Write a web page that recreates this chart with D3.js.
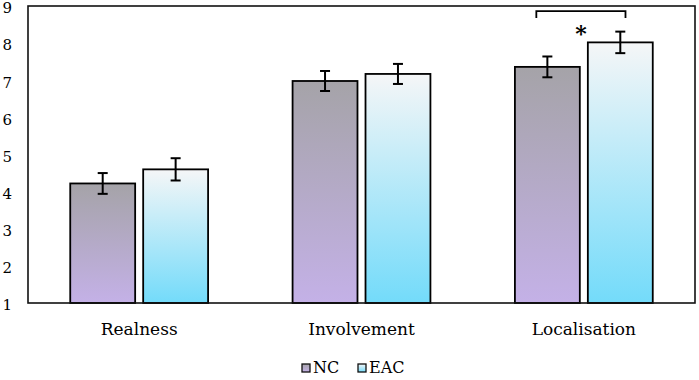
<!DOCTYPE html>
<html>
<head>
<meta charset="utf-8">
<script src="https://cdn.jsdelivr.net/npm/d3@7"></script>
<style>
  body { margin: 0; background: #fff; }
  text { font-family: "DejaVu Serif", "Liberation Serif", serif; fill: #000; }
</style>
</head>
<body>
<div id="chart"></div>
<script>
const categories = ["Realness", "Involvement", "Localisation"]
const seriesNames = ["NC", "EAC"]
const ncValues = [4.22, 6.98, 7.36]
const eacValues = [4.6, 7.17, 8.02]
const ncErrors = [0.28, 0.27, 0.28]
const eacErrors = [0.3, 0.27, 0.29]
const yTicks = [1, 2, 3, 4, 5, 6, 7, 8, 9]

const WIDTH = 699
const HEIGHT = 380
const PLOT = { LEFT: 28, RIGHT: 695, TOP: 6, BOTTOM: 303 }

const svg = d3.select("#chart")
  .append("svg")
  .attr("width", WIDTH)
  .attr("height", HEIGHT)

// gradients for each series
const defs = svg.append("defs")
const gradients = {
  NC: ["#a5a3a8", "#c4b1e7"],
  EAC: ["#f5f6f7", "#73dbfa"],
}
seriesNames.forEach(name => {
  const g = defs.append("linearGradient")
    .attr("id", "grad-" + name)
    .attr("x1", 0).attr("y1", 0).attr("x2", 0).attr("y2", 1)
  g.append("stop").attr("offset", "0%").attr("stop-color", gradients[name][0])
  g.append("stop").attr("offset", "100%").attr("stop-color", gradients[name][1])
})

const y = d3.scaleLinear()
  .domain([1, 9])
  .range([PLOT.BOTTOM, PLOT.TOP])

const x0 = d3.scaleBand()
  .domain(categories)
  .range([PLOT.LEFT, PLOT.RIGHT])
  .paddingInner(0.38)
  .paddingOuter(0.19)

const x1 = d3.scaleBand()
  .domain(seriesNames)
  .range([0, x0.bandwidth()])
  .paddingInner(0.11)

// y tick labels (no tick marks)
svg.append("g")
  .selectAll("text")
  .data(yTicks)
  .enter()
  .append("text")
  .attr("x", 12)
  .attr("y", d => y(d) + 2)
  .attr("dy", "0.35em")
  .attr("text-anchor", "end")
  .style("font-size", "15px")
  .text(d => d)

const rows = []
categories.forEach((c, i) => {
  rows.push({ cat: c, series: "NC", value: ncValues[i], err: ncErrors[i] })
  rows.push({ cat: c, series: "EAC", value: eacValues[i], err: eacErrors[i] })
})

// bars
svg.append("g")
  .selectAll("rect")
  .data(rows)
  .enter()
  .append("rect")
  .attr("x", d => x0(d.cat) + x1(d.series))
  .attr("y", d => y(d.value))
  .attr("width", x1.bandwidth())
  .attr("height", d => y(1) - y(d.value))
  .attr("fill", d => `url(#grad-${d.series})`)
  .attr("stroke", "#000")
  .attr("stroke-width", 1.8)

// error bars
const errG = svg.append("g")
  .attr("stroke", "#000")
  .attr("stroke-width", 2)
rows.forEach(d => {
  const cx = x0(d.cat) + x1(d.series) + x1.bandwidth() / 2
  const top = y(d.value + d.err)
  const bot = y(d.value - d.err)
  errG.append("line").attr("x1", cx).attr("x2", cx).attr("y1", top).attr("y2", bot)
  errG.append("line").attr("x1", cx - 5).attr("x2", cx + 5).attr("y1", top).attr("y2", top)
  errG.append("line").attr("x1", cx - 5).attr("x2", cx + 5).attr("y1", bot).attr("y2", bot)
})

// plot frame
svg.append("rect")
  .attr("x", PLOT.LEFT)
  .attr("y", PLOT.TOP)
  .attr("width", PLOT.RIGHT - PLOT.LEFT)
  .attr("height", PLOT.BOTTOM - PLOT.TOP)
  .attr("fill", "none")
  .attr("stroke", "#111")
  .attr("stroke-width", 1.6)

// category labels
svg.append("g")
  .selectAll("text")
  .data(categories)
  .enter()
  .append("text")
  .attr("x", d => x0(d) + x0.bandwidth() / 2)
  .attr("y", 335)
  .attr("text-anchor", "middle")
  .style("font-size", "17px")
  .text(d => d)

// significance bracket for Localisation
const sigCat = "Localisation"
const bx1 = x0(sigCat) + x1("NC") + x1.bandwidth() * 0.33
const bx2 = x0(sigCat) + x1("EAC") + x1.bandwidth() * 0.58
svg.append("path")
  .attr("d", `M${bx1},${y(8.68)}V${y(8.86)}H${bx2}V${y(8.68)}`)
  .attr("fill", "none")
  .attr("stroke", "#000")
  .attr("stroke-width", 1.8)
svg.append("text")
  .attr("x", (bx1 + bx2) / 2)
  .attr("y", y(8.05))
  .attr("text-anchor", "middle")
  .style("font-size", "22px")
  .style("font-weight", "bold")
  .text("*")

// legend
const legend = svg.append("g")
const legendX = [302, 358]
seriesNames.forEach((name, i) => {
  legend.append("rect")
    .attr("x", legendX[i])
    .attr("y", 364)
    .attr("width", 8)
    .attr("height", 8)
    .attr("fill", `url(#grad-${name})`)
    .attr("stroke", "#111")
    .attr("stroke-width", 1.3)
  legend.append("text")
    .attr("x", legendX[i] + 11)
    .attr("y", 373)
    .style("font-size", "16px")
    .text(name)
})
</script>
</body>
</html>
